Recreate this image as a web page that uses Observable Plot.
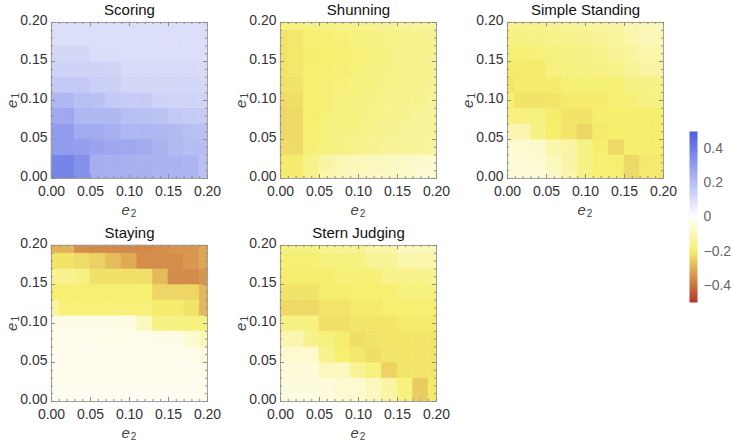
<!DOCTYPE html>
<html><head><meta charset="utf-8">
<script src="https://cdn.jsdelivr.net/npm/d3@7"></script>
<script src="https://cdn.jsdelivr.net/npm/@observablehq/plot@0.6"></script>
<style>
body{margin:0;background:#fff;}
#chart{position:relative;width:733px;height:444px;overflow:hidden;background:#fff;font-family:"Liberation Sans",Arial,sans-serif;}
.panel{position:absolute;}
.lab{position:absolute;font-size:15px;color:#444;white-space:nowrap;line-height:1;}
.lab i{font-style:italic;}
.lab sub{font-size:10px;vertical-align:baseline;position:relative;top:2px;margin-left:1px;line-height:1;}
</style></head><body><div id="chart"></div>
<script>
// grid positions (error rates)
const e2Grid = [0.00,0.02,0.04,0.06,0.08,0.10,0.12,0.14,0.16,0.18,0.20];
const e1Grid = [0.00,0.02,0.04,0.06,0.08,0.10,0.12,0.14,0.16,0.18,0.20];
const majorTicks = [0.00,0.05,0.10,0.15,0.20];
const minorTicks = [0.01,0.02,0.03,0.04,0.06,0.07,0.08,0.09,0.11,0.12,0.13,0.14,0.16,0.17,0.18,0.19];
const legendTicks = [-0.4,-0.2,0,0.2,0.4];
const panelTitles = ["Scoring","Shunning","Simple Standing","Staying","Stern Judging"];
const colorStops = [-0.5,-0.2,0,0.5];
const colorRange = ["#b5362a","#f6ef6e","#ffffff","#4a5de0"];

// values: rows = e1 (0 -> 0.20), columns = e2 (0 -> 0.20)
const scoring = [
 [0.38,0.38,0.34,0.25,0.245,0.24,0.237,0.232,0.232,0.228,0.19],
 [0.38,0.38,0.34,0.25,0.245,0.24,0.237,0.232,0.232,0.228,0.19],
 [0.307,0.307,0.298,0.28,0.27,0.27,0.26,0.232,0.214,0.205,0.205],
 [0.307,0.307,0.26,0.26,0.242,0.223,0.223,0.218,0.214,0.195,0.19],
 [0.27,0.27,0.218,0.218,0.218,0.195,0.19,0.186,0.163,0.158,0.158],
 [0.218,0.218,0.195,0.19,0.163,0.158,0.158,0.135,0.13,0.13,0.13],
 [0.165,0.165,0.163,0.146,0.144,0.121,0.121,0.121,0.121,0.119,0.116],
 [0.136,0.136,0.135,0.133,0.13,0.112,0.112,0.112,0.11,0.11,0.11],
 [0.121,0.121,0.119,0.102,0.102,0.10,0.10,0.10,0.10,0.098,0.098],
 [0.098,0.098,0.098,0.098,0.098,0.098,0.098,0.098,0.098,0.098,0.098],
 [0.098,0.098,0.098,0.098,0.098,0.098,0.098,0.098,0.098,0.098,0.098]
];
const shunning = [
 [-0.205,-0.205,-0.158,-0.114,-0.097,-0.088,-0.084,-0.079,-0.075,-0.066,-0.062],
 [-0.205,-0.205,-0.163,-0.123,-0.106,-0.097,-0.088,-0.084,-0.079,-0.07,-0.066],
 [-0.232,-0.232,-0.189,-0.176,-0.167,-0.158,-0.15,-0.145,-0.141,-0.136,-0.132],
 [-0.236,-0.236,-0.194,-0.18,-0.172,-0.167,-0.158,-0.15,-0.145,-0.141,-0.136],
 [-0.238,-0.236,-0.198,-0.185,-0.176,-0.172,-0.163,-0.154,-0.15,-0.145,-0.141],
 [-0.234,-0.23,-0.198,-0.189,-0.18,-0.176,-0.167,-0.158,-0.154,-0.15,-0.145],
 [-0.222,-0.218,-0.198,-0.189,-0.185,-0.18,-0.172,-0.163,-0.158,-0.154,-0.15],
 [-0.218,-0.212,-0.198,-0.194,-0.189,-0.185,-0.176,-0.167,-0.158,-0.154,-0.15],
 [-0.218,-0.212,-0.2,-0.198,-0.194,-0.185,-0.176,-0.167,-0.158,-0.154,-0.15],
 [-0.218,-0.212,-0.194,-0.189,-0.185,-0.18,-0.172,-0.163,-0.158,-0.154,-0.15],
 [-0.18,-0.18,-0.167,-0.167,-0.163,-0.158,-0.154,-0.15,-0.145,-0.141,-0.141]
];
const simpleStanding = [
 [-0.06,-0.06,-0.06,-0.08,-0.117,-0.17,-0.19,-0.195,-0.235,-0.21,-0.21],
 [-0.06,-0.06,-0.063,-0.09,-0.123,-0.17,-0.196,-0.196,-0.235,-0.21,-0.21],
 [-0.068,-0.068,-0.072,-0.117,-0.126,-0.167,-0.2,-0.235,-0.2,-0.2,-0.2],
 [-0.108,-0.108,-0.167,-0.2,-0.216,-0.24,-0.207,-0.2,-0.2,-0.2,-0.2],
 [-0.18,-0.18,-0.18,-0.205,-0.22,-0.22,-0.2,-0.2,-0.2,-0.2,-0.2],
 [-0.195,-0.22,-0.22,-0.216,-0.207,-0.207,-0.205,-0.19,-0.19,-0.17,-0.17],
 [-0.22,-0.205,-0.205,-0.205,-0.19,-0.19,-0.19,-0.19,-0.17,-0.167,-0.167],
 [-0.207,-0.207,-0.207,-0.18,-0.175,-0.17,-0.167,-0.162,-0.144,-0.126,-0.126],
 [-0.19,-0.19,-0.185,-0.18,-0.17,-0.167,-0.162,-0.144,-0.135,-0.117,-0.117],
 [-0.17,-0.17,-0.167,-0.162,-0.157,-0.153,-0.144,-0.135,-0.117,-0.10,-0.095],
 [-0.162,-0.162,-0.157,-0.153,-0.148,-0.144,-0.135,-0.126,-0.108,-0.095,-0.09]
];
const staying = [
 [-0.02,-0.02,-0.02,-0.02,-0.02,-0.02,-0.02,-0.02,-0.02,-0.02,-0.022],
 [-0.022,-0.022,-0.022,-0.022,-0.022,-0.022,-0.022,-0.022,-0.022,-0.022,-0.025],
 [-0.023,-0.023,-0.023,-0.023,-0.023,-0.023,-0.023,-0.024,-0.024,-0.025,-0.03],
 [-0.025,-0.025,-0.025,-0.025,-0.025,-0.026,-0.026,-0.027,-0.028,-0.03,-0.05],
 [-0.028,-0.028,-0.028,-0.03,-0.03,-0.03,-0.03,-0.032,-0.035,-0.065,-0.10],
 [-0.034,-0.034,-0.034,-0.035,-0.036,-0.04,-0.087,-0.17,-0.17,-0.175,-0.18],
 [-0.13,-0.185,-0.185,-0.185,-0.185,-0.185,-0.185,-0.205,-0.205,-0.22,-0.29],
 [-0.195,-0.195,-0.195,-0.195,-0.195,-0.195,-0.195,-0.24,-0.24,-0.24,-0.29],
 [-0.155,-0.155,-0.17,-0.222,-0.222,-0.222,-0.226,-0.285,-0.36,-0.36,-0.345],
 [-0.22,-0.22,-0.232,-0.25,-0.282,-0.312,-0.358,-0.358,-0.358,-0.34,-0.315],
 [-0.295,-0.295,-0.358,-0.365,-0.365,-0.365,-0.365,-0.36,-0.345,-0.345,-0.315]
];
const sternJudging = [
 [-0.04,-0.04,-0.04,-0.045,-0.068,-0.068,-0.09,-0.126,-0.18,-0.255,-0.207],
 [-0.045,-0.045,-0.045,-0.045,-0.068,-0.068,-0.09,-0.126,-0.18,-0.255,-0.207],
 [-0.054,-0.054,-0.054,-0.09,-0.09,-0.144,-0.18,-0.245,-0.216,-0.216,-0.216],
 [-0.068,-0.068,-0.068,-0.158,-0.198,-0.212,-0.228,-0.216,-0.216,-0.216,-0.216],
 [-0.108,-0.108,-0.158,-0.18,-0.203,-0.228,-0.22,-0.216,-0.216,-0.216,-0.216],
 [-0.171,-0.171,-0.18,-0.226,-0.226,-0.216,-0.216,-0.216,-0.207,-0.207,-0.207],
 [-0.235,-0.235,-0.235,-0.216,-0.216,-0.207,-0.207,-0.194,-0.194,-0.194,-0.194],
 [-0.218,-0.218,-0.218,-0.203,-0.203,-0.194,-0.194,-0.194,-0.18,-0.18,-0.18],
 [-0.203,-0.203,-0.203,-0.203,-0.189,-0.189,-0.189,-0.162,-0.162,-0.162,-0.153],
 [-0.194,-0.194,-0.194,-0.18,-0.18,-0.18,-0.144,-0.144,-0.117,-0.117,-0.117],
 [-0.171,-0.171,-0.171,-0.153,-0.153,-0.153,-0.117,-0.117,-0.09,-0.09,-0.09]
];

const FRAME = 156;
const FONT = "'Liberation Sans', Arial, sans-serif";
const colorScale = {type: "linear", domain: colorStops, range: colorRange, interpolate: "rgb", clamp: true};
const chart = document.getElementById("chart");

function addLabel(html, left, top, rotate) {
  const d = document.createElement("div");
  d.className = "lab";
  d.innerHTML = html;
  chart.appendChild(d);
  const w = d.offsetWidth, h = d.offsetHeight;
  d.style.left = (left - w / 2) + "px";
  d.style.top = (top - h / 2) + "px";
  if (rotate) d.style.transform = "rotate(-90deg)";
}

function panel(values, title, fx, fy) {
  const cells = [];
  values.forEach((row, i) => row.forEach((v, j) => cells.push({e1: e1Grid[i], e2: e2Grid[j], v})));
  const lo = e2Grid[0], hi = e2Grid[e2Grid.length - 1];
  const half = (e2Grid[1] - e2Grid[0]) / 2;
  const mL = 51, mT = 22, mR = 21, mB = 44;
  const tickStroke = "#8c8c8c";
  const svg = Plot.plot({
    width: mL + FRAME + mR, height: mT + FRAME + mB,
    marginLeft: mL, marginTop: mT, marginRight: mR, marginBottom: mB,
    x: {domain: [lo, hi]},
    y: {domain: [lo, hi]},
    color: colorScale,
    style: {fontFamily: FONT, fontSize: "14px", color: "#333", background: "transparent", overflow: "visible"},
    marks: [
      Plot.rect(cells, {
        x1: d => Math.max(lo, d.e2 - half), x2: d => Math.min(hi, d.e2 + half),
        y1: d => Math.max(lo, d.e1 - half), y2: d => Math.min(hi, d.e1 + half),
        fill: "v", stroke: "v", strokeWidth: 0.6
      }),
      Plot.frame({stroke: "#a0a0a0", strokeWidth: 1}),
      Plot.ruleX(majorTicks, {x: d => d, insetTop: FRAME - 4, stroke: tickStroke}),
      Plot.ruleX(majorTicks, {x: d => d, insetBottom: FRAME - 4, stroke: tickStroke}),
      Plot.ruleX(minorTicks, {x: d => d, insetTop: FRAME - 2, stroke: tickStroke}),
      Plot.ruleX(minorTicks, {x: d => d, insetBottom: FRAME - 2, stroke: tickStroke}),
      Plot.ruleY(majorTicks, {y: d => d, insetRight: FRAME - 4, stroke: tickStroke}),
      Plot.ruleY(majorTicks, {y: d => d, insetLeft: FRAME - 4, stroke: tickStroke}),
      Plot.ruleY(minorTicks, {y: d => d, insetRight: FRAME - 2, stroke: tickStroke}),
      Plot.ruleY(minorTicks, {y: d => d, insetLeft: FRAME - 2, stroke: tickStroke}),
      Plot.axisX({ticks: majorTicks, tickSize: 0, tickPadding: 8, tickFormat: d3.format(".2f"), label: null, fontSize: 14, fill: "#333"}),
      Plot.axisY({ticks: majorTicks, tickSize: 0, tickPadding: 4, dy: -2, tickFormat: d3.format(".2f"), label: null, fontSize: 14, fill: "#333"}),
      Plot.text([title], {text: d => d, frameAnchor: "top", lineAnchor: "middle", dy: -12, fontSize: 15, fill: "#111"})
    ]
  });
  svg.classList.add("panel");
  svg.style.left = (fx - mL) + "px";
  svg.style.top = (fy - mT) + "px";
  chart.appendChild(svg);
  addLabel("<i>e</i><sub>2</sub>", fx + FRAME / 2, fy + FRAME + 31, false);
  addLabel("<i>e</i><sub>1</sub>", fx - 40, fy + FRAME / 2, true);
}

panel(scoring, panelTitles[0], 51, 22);
panel(shunning, panelTitles[1], 280, 22);
panel(simpleStanding, panelTitles[2], 507, 22);
panel(staying, panelTitles[3], 51, 245);
panel(sternJudging, panelTitles[4], 280, 245);

// vertical colour legend
const legend = Plot.plot({
  width: 48, height: 191,
  marginLeft: 0, marginRight: 40, marginTop: 10, marginBottom: 10,
  x: {domain: [0, 1], axis: null},
  y: {domain: [colorStops[0], colorStops[colorStops.length - 1]]},
  color: colorScale,
  style: {fontFamily: FONT, fontSize: "14px", color: "#666", background: "transparent", overflow: "visible"},
  marks: [
    Plot.raster({x1: 0, x2: 1, y1: colorStops[0], y2: colorStops[colorStops.length - 1], fill: (x, y) => y, pixelSize: 1}),
    Plot.axisY({anchor: "right", ticks: legendTicks, tickSize: 0, tickPadding: 6, label: null, fontSize: 14, fill: "#666",
      tickFormat: d => d === 0 ? "0" : d3.format(".1f")(d)})
  ]
});
legend.classList.add("panel");
legend.style.left = "689px";
legend.style.top = "121px";
chart.appendChild(legend);
</script></body></html>
